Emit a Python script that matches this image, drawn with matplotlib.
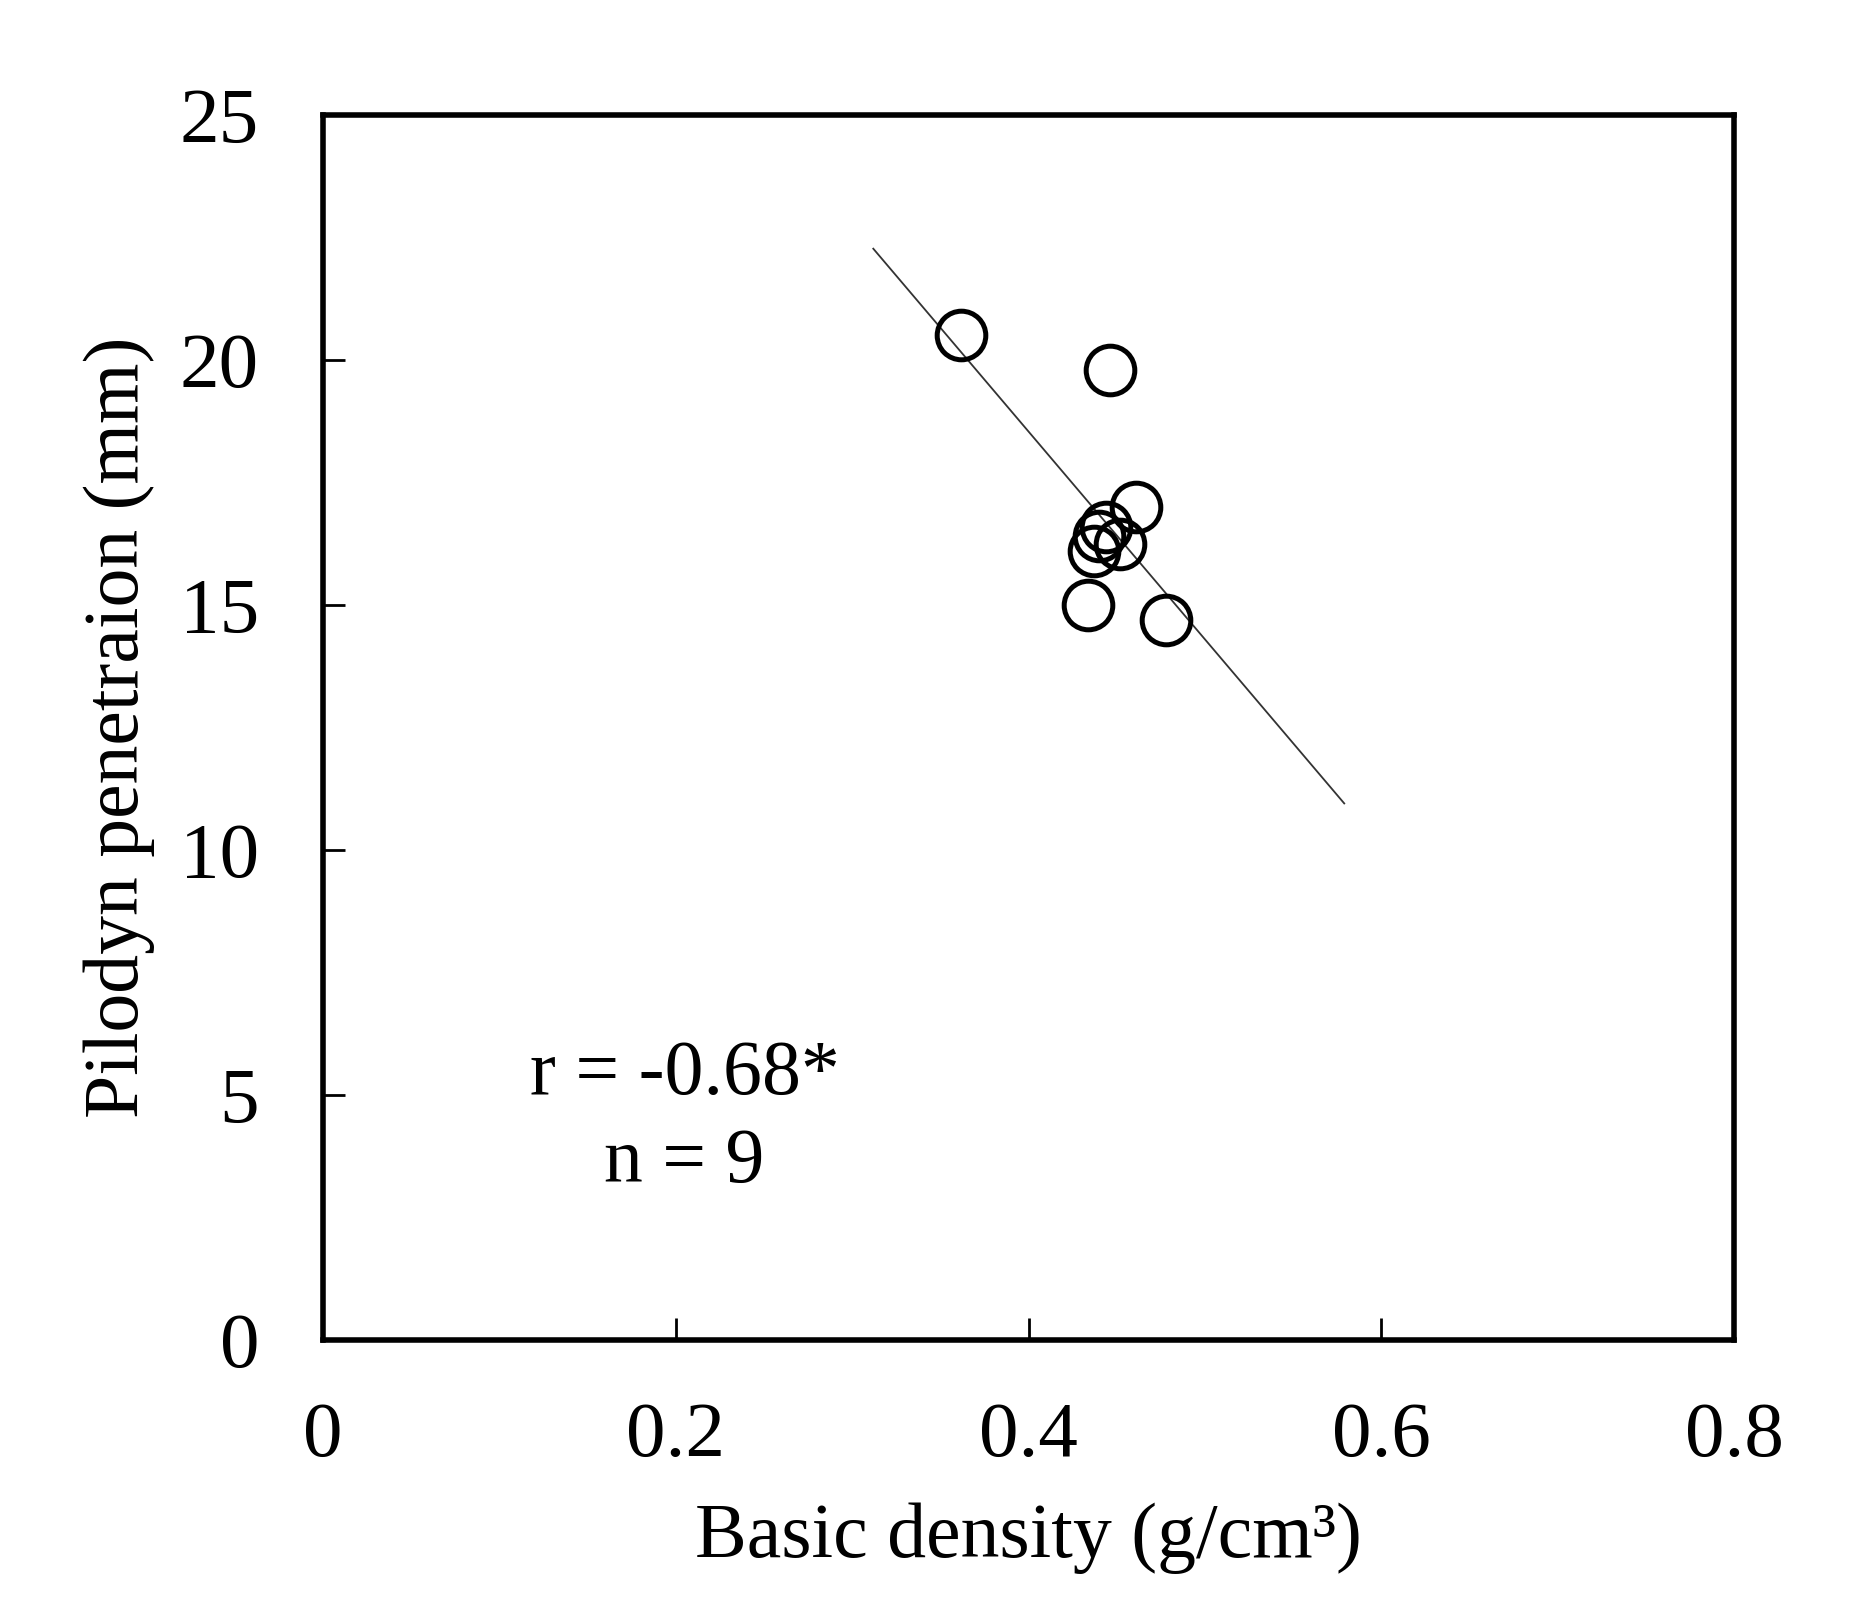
import matplotlib
matplotlib.use("Agg")
import matplotlib.pyplot as plt
import numpy as np

# data
density = [0.362, 0.446, 0.461, 0.434, 0.478, 0.437, 0.440, 0.444, 0.452]
pilodyn = [20.5, 19.8, 17.0, 15.0, 14.7, 16.1, 16.4, 16.6, 16.25]

# fitted line as drawn
fit_x = [0.312, 0.579]
fit_slope = -42.4
fit_intercept = 35.5

x_ticks = [0, 0.2, 0.4, 0.6, 0.8]
x_labels = ["0", "0.2", "0.4", "0.6", "0.8"]
y_ticks = [0, 5, 10, 15, 20, 25]

plt.rcParams["font.family"] = ["Liberation Serif", "DejaVu Serif"]

fig = plt.figure(figsize=(18.69, 16.17), dpi=100)
ax = fig.add_axes([0.1728, 0.1713, 0.755, 0.7576])

fx = np.array(fit_x)
ax.plot(fx, fit_slope * fx + fit_intercept, color="#333333", lw=1.3, zorder=1)
ax.plot(density, pilodyn, "o", ms=35, mfc="none", mec="black", mew=3.6, zorder=2)

ax.set_xlim(0, 0.8)
ax.set_ylim(0, 25)
ax.set_xticks(x_ticks)
ax.set_xticklabels(x_labels)
ax.set_yticks(y_ticks)
ax.tick_params(direction="in", length=16, width=2, labelsize=57)
ax.tick_params(axis="x", pad=44)
ax.tick_params(axis="y", pad=46)
for s in ax.spines.values():
    s.set_linewidth(4)

ax.set_xlabel("Basic density (g/cm³)", fontsize=56, va="center")
ax.xaxis.set_label_coords(0.5, -0.162)
ax.set_ylabel("Pilodyn penetraion (mm)", fontsize=56, va="center")
ax.yaxis.set_label_coords(-0.1446, 0.5)

ax.text(0.205, 5.4, "r = -0.68*", fontsize=56, ha="center", va="center")
ax.text(0.205, 3.6, "n = 9", fontsize=56, ha="center", va="center")

fig.savefig("out.png", dpi=100)
